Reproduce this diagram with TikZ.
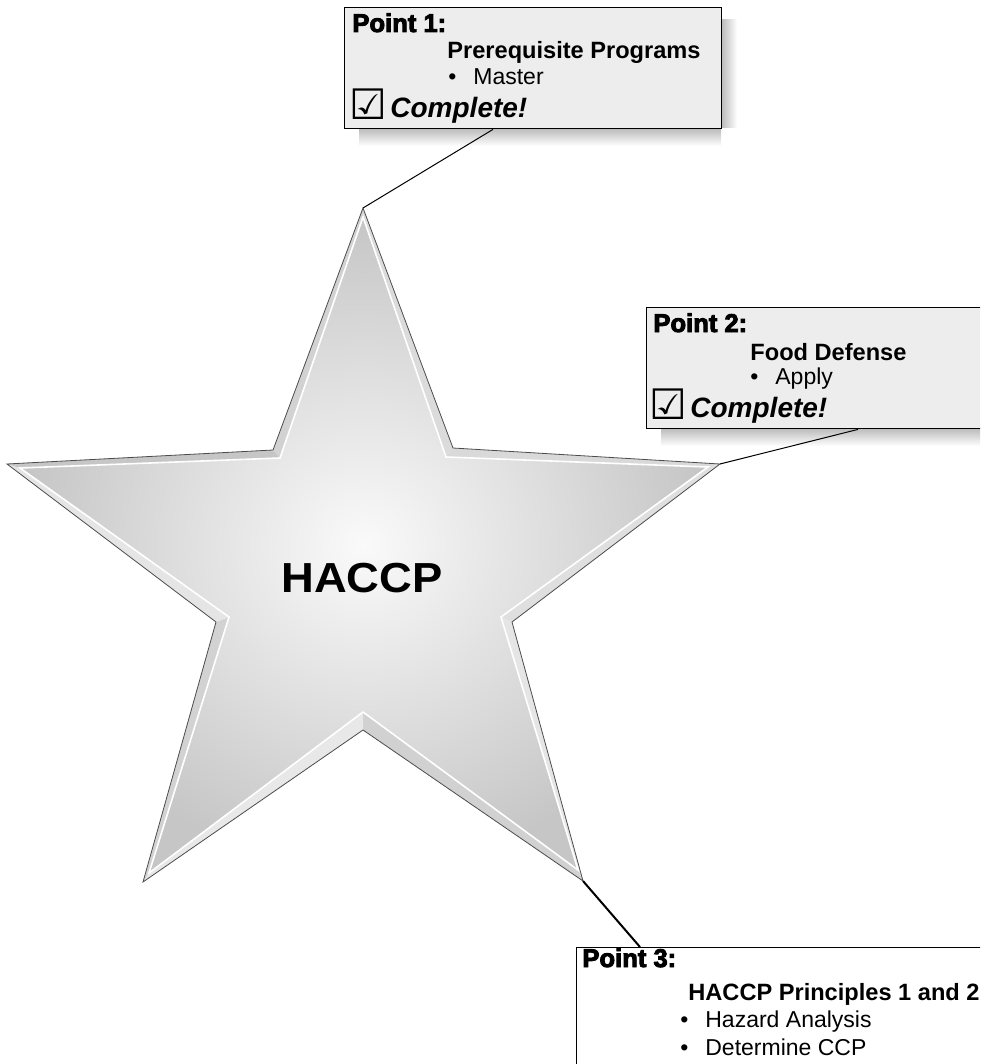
\documentclass[tikz,border=0pt]{standalone}
\usepackage{fontspec}
\setmainfont{Liberation Sans}
\newfontfamily\heavyfont[BoldFeatures={FakeBold=3.5}]{Liberation Sans}
\newfontfamily\symfont{DejaVu Sans}
\usetikzlibrary{calc}

\tikzset{
  pointbox/.style={draw=black, line width=0.7pt, fill=gray!14, anchor=north west, inner sep=0pt},
  pointlabel/.style={anchor=base west, inner sep=0pt, font=\heavyfont\bfseries\fontsize{12.8}{15}\selectfont},
  headline/.style={anchor=base west, inner sep=0pt, font=\bfseries\fontsize{11.8}{14}\selectfont},
  itemline/.style={anchor=base west, inner sep=0pt, font=\fontsize{11.5}{14}\selectfont},
  donelabel/.style={anchor=base west, inner sep=0pt, font=\bfseries\itshape\fontsize{14}{17}\selectfont},
  checkglyph/.style={anchor=base west, inner sep=0pt, font=\symfont\fontsize{21}{24}\selectfont},
  connector/.style={draw=black, line width=0.5pt},
}

\begin{document}
\begin{tikzpicture}[x=0.5pt, y=-0.5pt]
		%%%%% START %%%%%
		\useasboundingbox (0,0) rectangle (980,1064);
		\clip (0,0) rectangle (980,1064);
		
		% star silhouette
		\coordinate (s1) at (363,208);
		\coordinate (s2) at (453,448);
		\coordinate (s3) at (720,464);
		\coordinate (s4) at (512,622);
		\coordinate (s5) at (583,881);
		\coordinate (s6) at (363,730);
		\coordinate (s7) at (143,882);
		\coordinate (s8) at (216,622);
		\coordinate (s9) at (7,464);
		\coordinate (s10) at (273,450);
		
		% star face
		\coordinate (f1) at (363,217);
		\coordinate (f2) at (446,457);
		\coordinate (f3) at (708,467);
		\coordinate (f4) at (501,617);
		\coordinate (f5) at (578,870);
		\coordinate (f6) at (363,712);
		\coordinate (f7) at (149,873);
		\coordinate (f8) at (229,617);
		\coordinate (f9) at (20,468);
		\coordinate (f10) at (280,458);
		
		\foreach \a/\b/\c in {1/2/28, 2/3/30, 3/4/25, 4/5/20, 5/6/36, 6/7/18, 7/8/35, 8/9/20, 9/10/45, 10/1/35}
			\fill[gray!\c] (s\a) -- (s\b) -- (f\b) -- (f\a) -- cycle;
		
		\shade[inner color=gray!4, outer color=gray!45] (f1) -- (f2) -- (f3) -- (f4) -- (f5) -- (f6) -- (f7) -- (f8) -- (f9) -- (f10) -- cycle;
		\draw[white, line width=0.8pt] (f1) -- (f2) -- (f3) -- (f4) -- (f5) -- (f6) -- (f7) -- (f8) -- (f9) -- (f10) -- cycle;
		\draw[gray!60!black, line width=0.4pt] (s1) -- (s2) -- (s3) -- (s4) -- (s5) -- (s6) -- (s7) -- (s8) -- (s9) -- (s10) -- cycle;
		
		\node[font=\bfseries\fontsize{21}{25}\selectfont, xscale=1.08] (title) at (362,578) {HACCP};
		
		% shadows under the boxes
		\shade[top color=gray!55, bottom color=white] (359,128) rectangle (721,146);
		\shade[left color=gray!55, right color=white] (721,20) rectangle (737,128);
		\shade[top color=gray!55, bottom color=white] (661,428) rectangle (990,446);
		
		% point 1
		\node[pointbox, minimum width=188.5pt, minimum height=60.5pt] (box1) at (344,7) {};
		\node[pointlabel] (p1) at (352,32) {Point 1:};
		\node[headline] (h1) at (447,59) {Prerequisite Programs};
		\node[itemline] (i1) at (448,85) {\makebox[12.5pt][l]{\textbullet}Master};
		\node[checkglyph] (k1) at (349,120) {☑};
		\node[donelabel] (d1) at (390,118) {Complete!};
		
		% point 2
		\node[pointbox, minimum width=177pt, minimum height=60.5pt] (box2) at (646,307) {};
		\node[pointlabel] (p2) at (653,332) {Point 2:};
		\node[headline] (h2) at (750,360) {Food Defense};
		\node[itemline] (i2) at (750,384) {\makebox[12.5pt][l]{\textbullet}Apply};
		\node[checkglyph] (k2) at (649,419) {☑};
		\node[donelabel] (d2) at (690,417) {Complete!};
		
		% point 3
		\node[pointbox, fill=white, minimum width=212pt, minimum height=66.5pt] (box3) at (576,947) {};
		\node[pointlabel] (p3) at (582,967) {Point 3:};
		\node[headline] (h3) at (688,1000) {HACCP Principles 1 and 2};
		\node[itemline] (i3) at (680,1027) {\makebox[12.5pt][l]{\textbullet}Hazard Analysis};
		\node[itemline] (j3) at (680,1055) {\makebox[12.5pt][l]{\textbullet}Determine CCP};
		
		% connectors
		\coordinate (foot1) at ($(box1.south west)+(149,0)$);
		\coordinate (foot2) at ($(box2.south west)+(212,0)$);
		\coordinate (head3) at ($(box3.north west)+(64,0)$);
		\draw[connector] (foot1) -- (s1);
		\draw[connector] (foot2) -- (s3);
		\draw[connector, line width=1pt] (s5) -- (head3);
		
		%%%%% END %%%%%
	\end{tikzpicture}
\end{document}
